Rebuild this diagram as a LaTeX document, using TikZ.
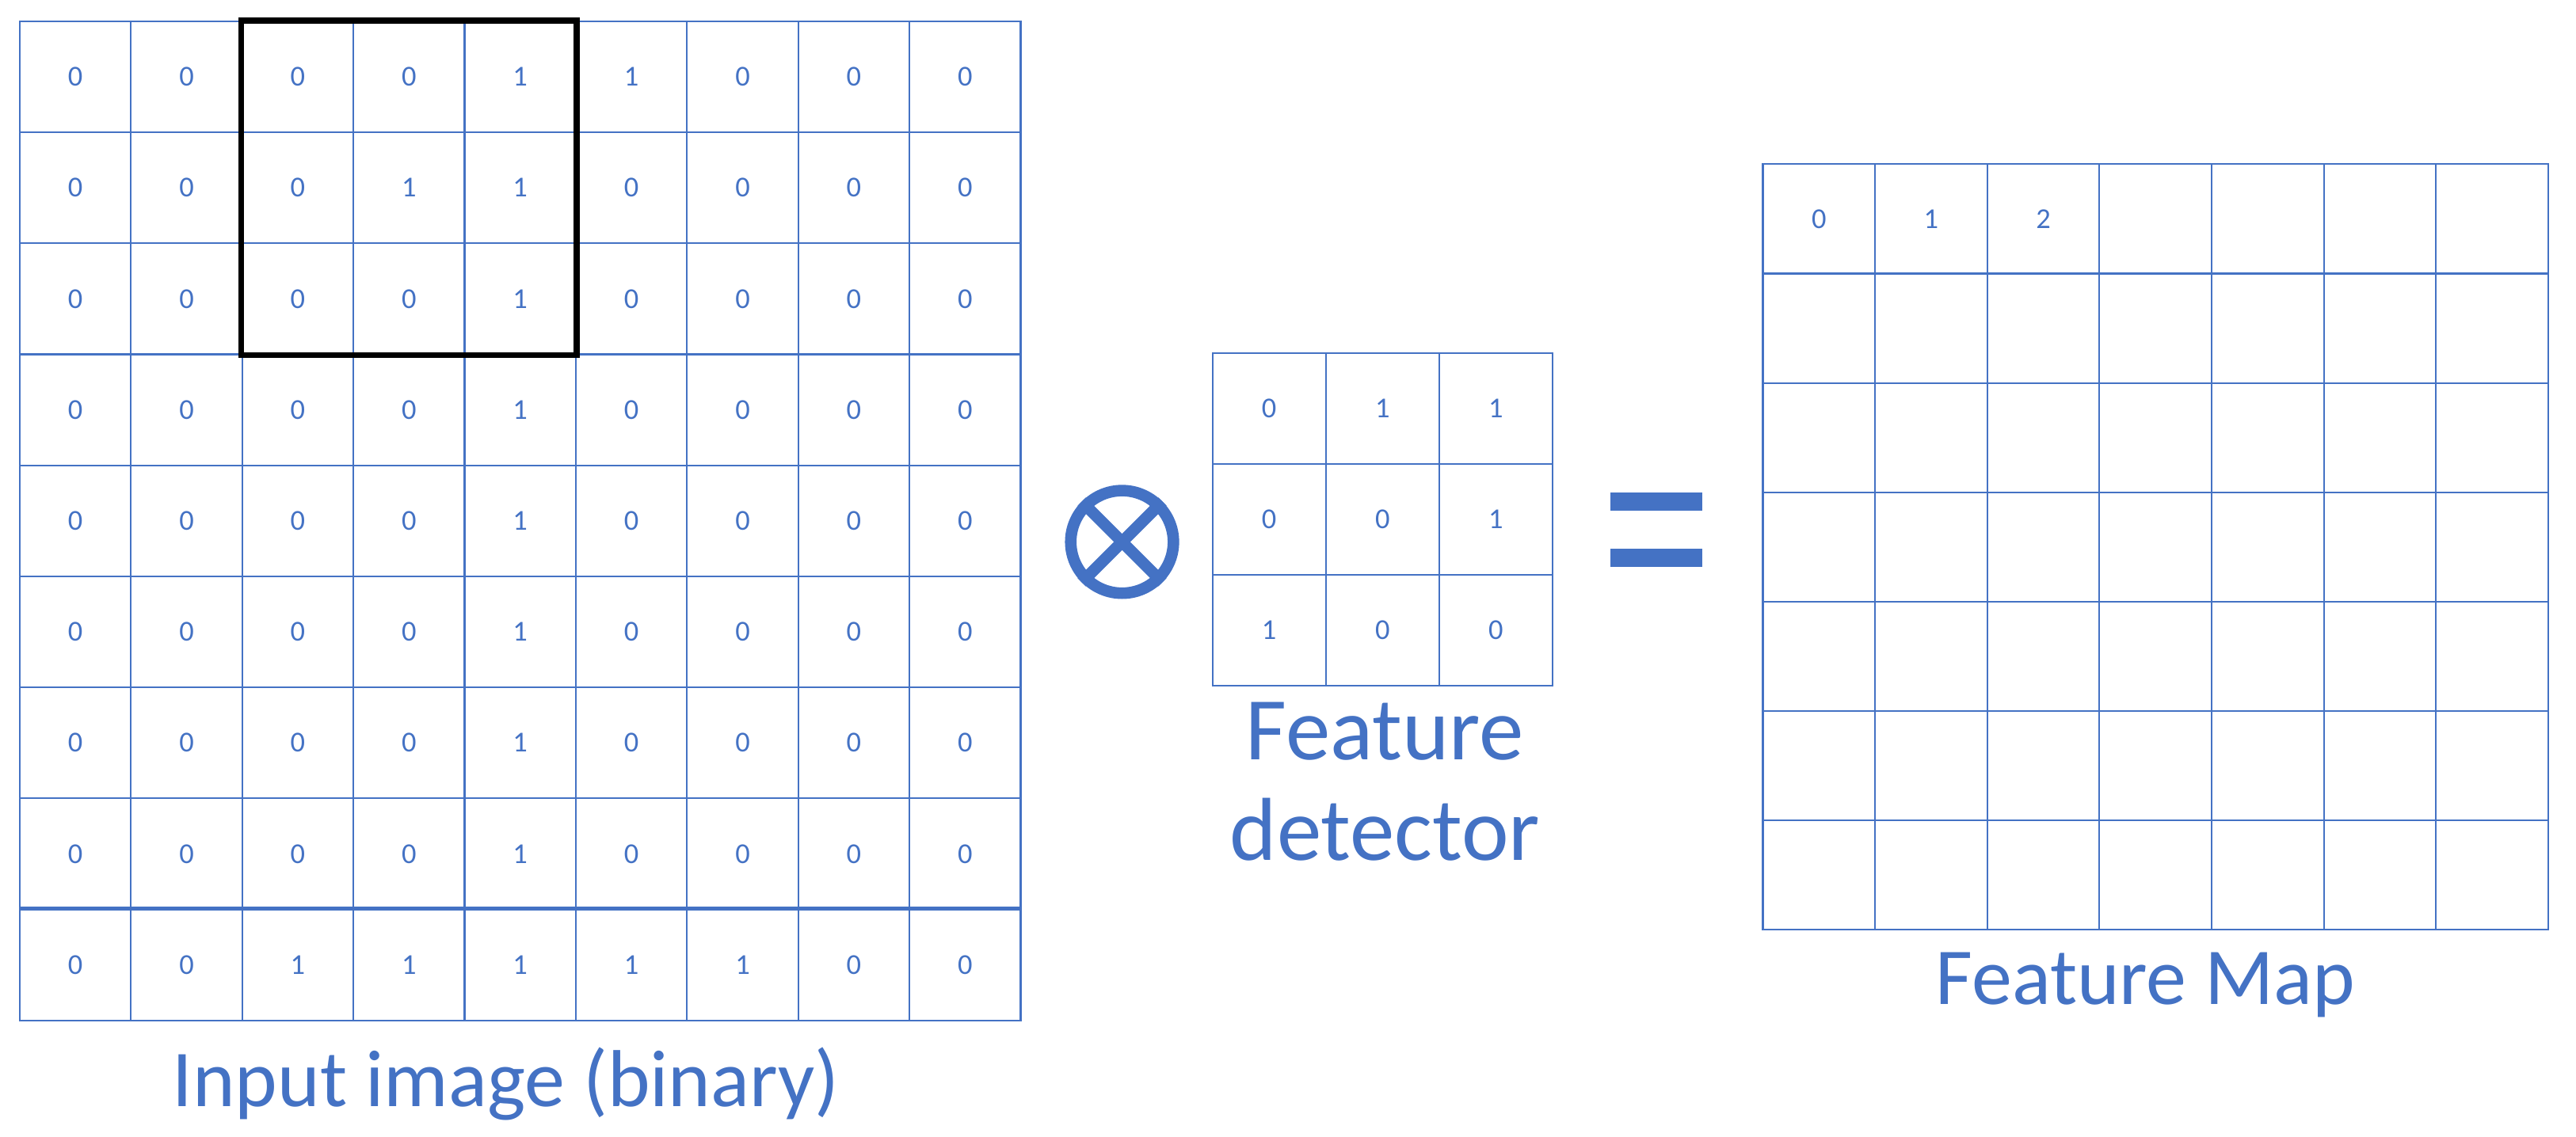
\documentclass[tikz,border=0pt]{standalone}
\usepackage{fontspec}
\setmainfont{Carlito}
\definecolor{ppblue}{HTML}{4472C4}
\tikzstyle{cell}=[rectangle,draw=ppblue,line width=0.6pt,text=ppblue,inner sep=0pt,font=\fontsize{10}{12}\selectfont]
\tikzstyle{caption}=[text=ppblue,font=\fontsize{28}{34}\selectfont,align=center]
% one row of cells: #1 name, #2 x0, #3 y0, #4 w, #5 h, #6 values
\newcommand\CellRow[6]{
  \foreach \v [count=\i from 0] in {#6} {
    \node[cell,minimum width=#4*0.02cm,minimum height=#5*0.02cm] (#1-\i)
      at (#2+#4*\i+#4/2,#3+#5/2) {\v};
  }
}
\begin{document}
\begin{tikzpicture}[x=0.02cm,y=-0.02cm]
  \useasboundingbox (0,0) rectangle (1568,692);

  % input image
  \CellRow{inA}{12}{13}{67.7}{67.6}{0,0,0,0,1,1,0,0,0}
  \CellRow{inB}{12}{80.6}{67.7}{67.6}{0,0,0,1,1,0,0,0,0}
  \CellRow{inC}{12}{148.2}{67.7}{67.6}{0,0,0,0,1,0,0,0,0}
  \CellRow{inD}{12}{215.8}{67.7}{67.6}{0,0,0,0,1,0,0,0,0}
  \CellRow{inE}{12}{283.4}{67.7}{67.6}{0,0,0,0,1,0,0,0,0}
  \CellRow{inF}{12}{351}{67.7}{67.6}{0,0,0,0,1,0,0,0,0}
  \CellRow{inG}{12}{418.6}{67.7}{67.6}{0,0,0,0,1,0,0,0,0}
  \CellRow{inH}{12}{486.2}{67.7}{67.6}{0,0,0,0,1,0,0,0,0}
  \CellRow{inI}{12}{553.8}{67.7}{67.6}{0,0,1,1,1,1,1,0,0}
  \draw[ppblue,line width=1.2pt] (inI-0.north west) -- (inI-8.north east);
  \draw[black,line width=2pt] (inA-2.north west) rectangle (inC-4.south east);
  \node[caption] (incap) at (308,660) {Input image (binary)};

  % operator
  \node[circle,draw=ppblue,line width=4pt,minimum size=1.25cm,inner sep=0pt] (op) at (683,330) {};
  \draw[ppblue,line width=4pt] (op.north west) -- (op.south east);
  \draw[ppblue,line width=4pt] (op.north east) -- (op.south west);

  % feature detector
  \CellRow{kA}{738}{215}{69}{67.5}{0,1,1}
  \CellRow{kB}{738}{282.5}{69}{67.5}{0,0,1}
  \CellRow{kC}{738}{350}{69}{67.5}{1,0,0}
  \node[caption,font=\fontsize{31}{35}\selectfont] (kcap) at (843,476) {Feature\\detector};

  % equals
  \fill[ppblue] (980,300) rectangle (1036,311);
  \fill[ppblue] (980,334) rectangle (1036,345);

  % feature map
  \CellRow{mA}{1073}{100}{68.3}{66.6}{0,1,2,,,,}
  \foreach \r [count=\j from 1] in {mB,mC,mD,mE,mF,mG} {
    \CellRow{\r}{1073}{100+66.6*\j}{68.3}{66.6}{,,,,,,}
  }
  \node[caption] (mcap) at (1306,600) {Feature Map};
\end{tikzpicture}
\end{document}
